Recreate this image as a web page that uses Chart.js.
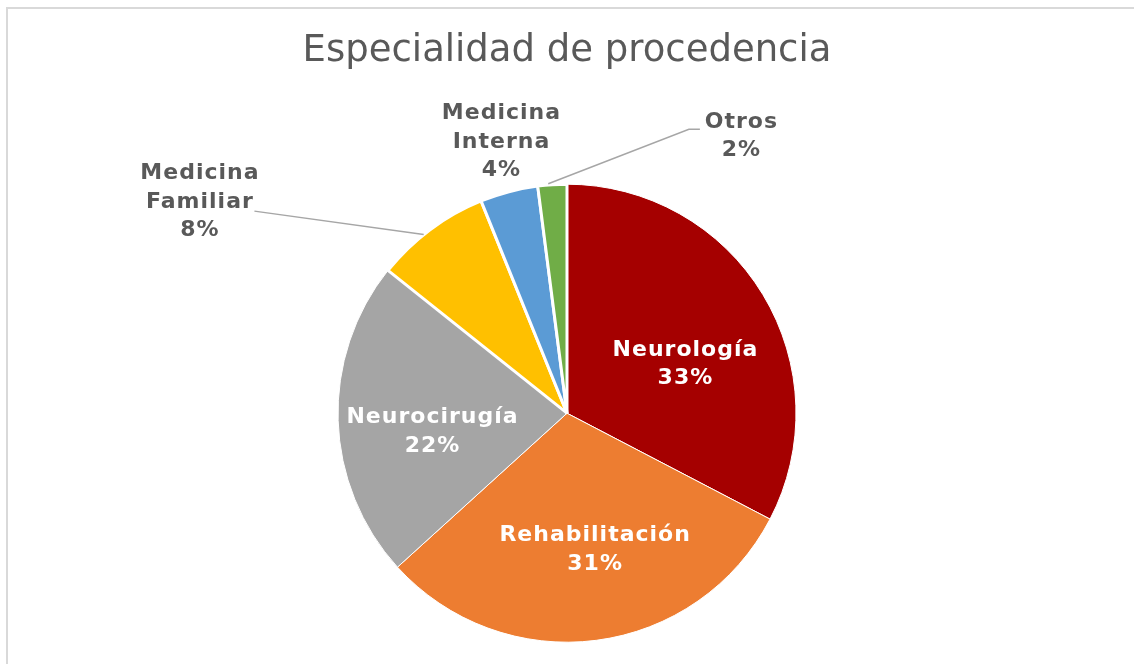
<!DOCTYPE html>
<html lang="es">
<head>
<meta charset="utf-8">
<title>Especialidad de procedencia</title>
<script src="https://cdn.jsdelivr.net/npm/chart.js@4.4.1/dist/chart.umd.min.js"></script>
<style>
  html, body { margin: 0; padding: 0; background: #fff; }
  #wrap { position: relative; width: 1134px; height: 664px; overflow: hidden; }
  #chart-box { position: absolute; left: 0; top: 0; width: 1134px; height: 753px; }
  #frame { position: absolute; left: 6px; top: 7px; right: -10px; bottom: -10px;
           border-top: 2px solid #d9d9d9; border-left: 2px solid #d9d9d9; pointer-events: none; }
</style>
</head>
<body>
<div id="wrap">
  <div id="chart-box"><canvas id="pie"></canvas></div>
  <div id="frame"></div>
</div>
<script>
// data
const categories = ['Neurología', 'Rehabilitación', 'Neurocirugía', 'Medicina Familiar', 'Medicina Interna', 'Otros'];
const patientCounts = [16, 15, 11, 4, 2, 1];
const sliceColors = ['#a50000', '#ed7d31', '#a5a5a5', '#ffc000', '#5b9bd5', '#70ad47'];
const sliceBorders = [1, 1, 1, 3, 3, 3];

// label placement: [angle shift from slice middle (deg), distance as fraction of radius]
const labelSpots = [[8.6, 0.558], [-4.1, 0.608], [-6.0, 0.595], [-23.4, 1.851], [1.0, 1.218], [35.8, 1.428]];
const insideLabel = [true, true, true, false, false, false];
// leader lines: start on slice [angle shift, radius fraction], then points relative to label centre
const leaders = [null, null, null,
    { from: [-2, 1.0], pts: [[55, 9]] },
    null,
    { from: [-1, 1.005], pts: [[-52, -7], [-41, -7]] }];

const sliceLabels = {
    id: 'sliceLabels',
    afterDatasetsDraw(chart) {
        const ctx = chart.ctx;
        const arcs = chart.getDatasetMeta(0).data;
        const total = patientCounts.reduce((t, v) => t + v, 0);
        const rad = Math.PI / 180;
        ctx.save();
        ctx.font = 'bold 22px "DejaVu Sans"';
        ctx.letterSpacing = '1px';
        ctx.textAlign = 'center';
        ctx.textBaseline = 'middle';
        arcs.forEach((arc, i) => {
            const p = arc.getProps(['x', 'y', 'startAngle', 'endAngle', 'outerRadius'], true);
            const mid = (p.startAngle + p.endAngle) / 2;
            const a = mid + labelSpots[i][0] * rad;
            const lx = p.x + Math.cos(a) * p.outerRadius * labelSpots[i][1];
            const ly = p.y + Math.sin(a) * p.outerRadius * labelSpots[i][1];

            const ld = leaders[i];
            if (ld) {
                const fa = mid + ld.from[0] * rad;
                ctx.beginPath();
                ctx.moveTo(p.x + Math.cos(fa) * p.outerRadius * ld.from[1], p.y + Math.sin(fa) * p.outerRadius * ld.from[1]);
                ld.pts.forEach(([dx, dy]) => ctx.lineTo(lx + dx, ly + dy));
                ctx.strokeStyle = '#a6a6a6';
                ctx.lineWidth = 1.5;
                ctx.stroke();
            }

            const pct = Math.round(patientCounts[i] / total * 100) + '%';
            const lines = insideLabel[i] ? [categories[i], pct] : categories[i].split(' ').concat(pct);
            const lh = 28.5;
            ctx.fillStyle = insideLabel[i] ? '#ffffff' : '#595959';
            lines.forEach((t, k) => {
                // letterSpacing adds trailing space, nudge back by half of it
                ctx.fillText(t, lx + 0.5, ly + (k - (lines.length - 1) / 2) * lh);
            });
        });
        ctx.restore();
    }
};

new Chart(document.getElementById('pie'), {
    type: 'pie',
    data: {
        labels: categories,
        datasets: [{
            data: patientCounts,
            backgroundColor: sliceColors,
            borderColor: '#ffffff',
            borderWidth: sliceBorders,
            radius: 229
        }]
    },
    options: {
        responsive: true,
        maintainAspectRatio: false,
        animation: false,
        layout: { padding: 0 },
        plugins: {
            legend: { display: false },
            tooltip: { enabled: false },
            title: {
                display: true,
                text: 'Especialidad de procedencia',
                color: '#595959',
                font: { family: '"DejaVu Sans"', size: 37, weight: 'normal', lineHeight: 1.2 },
                padding: { top: 29, bottom: 0 }
            }
        }
    },
    plugins: [sliceLabels]
});
</script>
</body>
</html>
